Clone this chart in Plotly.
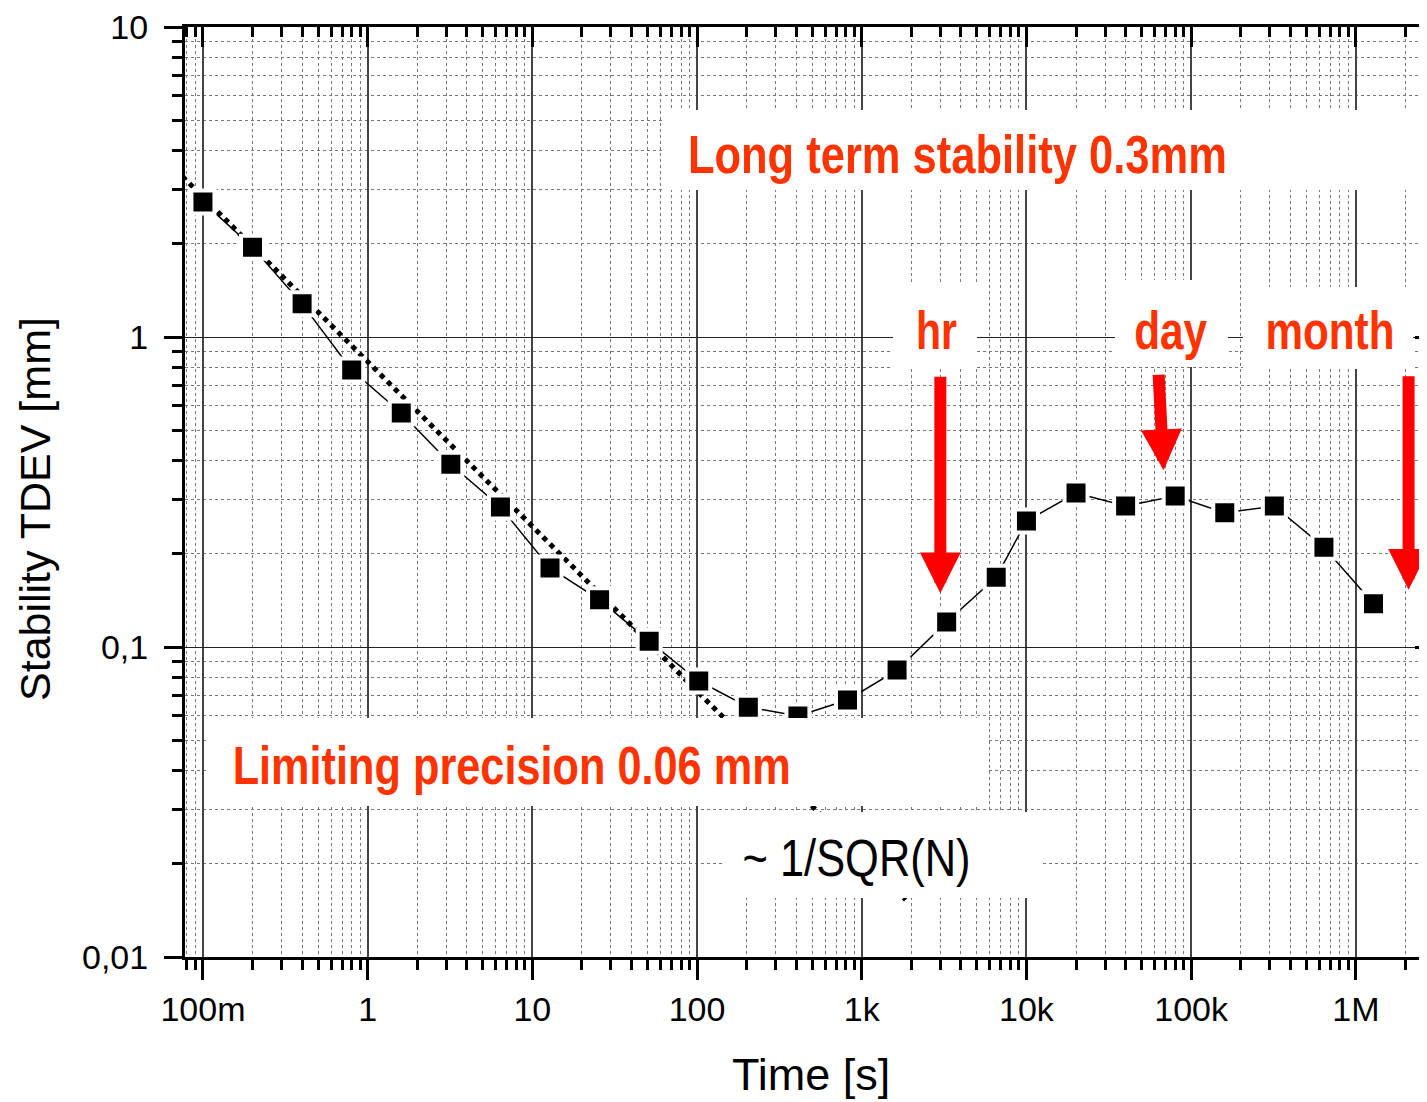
import math
import json
import plotly.graph_objects as go

# ---------------- data ----------------
tau_s = [0.1, 0.2, 0.4, 0.8, 1.6, 3.2, 6.4, 12.8, 25.6, 51.2, 102.4, 204.8,
         409.6, 819.2, 1638.4, 3276.8, 6553.6, 10000, 20000, 40000, 80000,
         160000, 320000, 640000, 1280000]
tdev_mm = [2.73, 1.95, 1.28, 0.783, 0.569, 0.389, 0.283, 0.180, 0.142, 0.1045,
           0.0777, 0.064, 0.0599, 0.0675, 0.0843, 0.1204, 0.168, 0.255, 0.314,
           0.285, 0.307, 0.271, 0.285, 0.210, 0.138]

# ~1/sqrt(N) guide line (end points)
fit_tau_s = [0.075, 1850]
fit_tdev_mm = [3.3, 0.0153]

x_tick_vals = [0.1, 1, 10, 100, 1e3, 1e4, 1e5, 1e6]
x_tick_text = ["100m", "1", "10", "100", "1k", "10k", "100k", "1M"]
y_tick_vals = [0.01, 0.1, 1, 10]
y_tick_text = ["0,01", "0,1", "1", "10"]

# arrow tips (time [s], TDEV [mm])
arrow_tau = [3000, 68000, 2.09e6]
arrow_tdev = [0.149, 0.372, 0.153]

# ---------------- layout constants ----------------
BODY = 8                      # default page margin of the html body
W, H = 1427 - BODY, 1102 - BODY
ML, MR, MT, MB = 185 - BODY, 0, 27 - BODY, 145
X_RANGE = [-1.109, 6.432]
Y_RANGE = [-2, 1.0005]

RED_TXT = "#ff3300"
RED_ARROW = "#ff0000"
NARROW = "Liberation Sans Narrow, Arial Narrow, Liberation Sans, Arial, sans-serif"
SANS = "Liberation Sans, Arial, sans-serif"

PW = W - ML - MR
PH = H - MT - MB


def px(x):
    """screen x pixel -> paper fraction"""
    return (x - BODY - ML) / PW


def py(y):
    """screen y pixel -> paper fraction"""
    return (H - MB - (y - BODY)) / PH


def minor_vals(lo, hi):
    out = []
    for d in range(lo, hi + 1):
        for m in range(2, 10):
            out.append(m * 10 ** d)
    return out


x_minor = minor_vals(-2, 6)
y_minor = minor_vals(-2, 0)

fig = go.Figure()

fig.add_trace(go.Scatter(
    x=fit_tau_s, y=fit_tdev_mm, mode="lines",
    line=dict(color="black", width=5, dash="dot"),
    showlegend=False, hoverinfo="skip"))

fig.add_trace(go.Scatter(
    x=tau_s, y=tdev_mm, mode="lines+markers",
    line=dict(color="black", width=1.5),
    marker=dict(symbol="square", size=23, color="black",
                line=dict(color="white", width=4)),
    showlegend=False))

# empty trace that only makes the mirrored top/right axes exist
fig.add_trace(go.Scatter(x=[], y=[], xaxis="x2", yaxis="y2",
                         showlegend=False, hoverinfo="skip"))

axis_common = dict(type="log", tickmode="array", tickcolor="black",
                   tickwidth=3, showline=True, linewidth=3, linecolor="black",
                   zeroline=False)

fig.update_layout(
    width=W, height=H,
    margin=dict(l=ML, r=MR, t=MT, b=MB, pad=0),
    paper_bgcolor="white", plot_bgcolor="white",
    xaxis=dict(**axis_common, range=X_RANGE, tickvals=x_tick_vals,
               ticktext=x_tick_text, ticks="outside", ticklen=20,
               showgrid=True, gridcolor="#444", gridwidth=1.5,
               tickfont=dict(family=SANS, size=34, color="black"),
               minor=dict(tickmode="array", tickvals=x_minor, ticks="outside",
                          ticklen=10, tickwidth=3, tickcolor="black",
                          showgrid=True, gridcolor="#777", griddash="dot",
                          gridwidth=1)),
    yaxis=dict(**axis_common, range=Y_RANGE, tickvals=y_tick_vals,
               ticktext=y_tick_text, ticks="outside", ticklen=18,
               ticklabelstandoff=9,
               showgrid=True, gridcolor="#222", gridwidth=1,
               tickfont=dict(family=SANS, size=34, color="black"),
               minor=dict(tickmode="array", tickvals=y_minor, ticks="outside",
                          ticklen=10, tickwidth=3, tickcolor="black",
                          showgrid=True, gridcolor="#777", griddash="dot",
                          gridwidth=1)),
    xaxis2=dict(**axis_common, overlaying="x", anchor="y2", side="top",
                range=X_RANGE, tickvals=x_tick_vals, ticks="inside",
                ticklen=20, showticklabels=False, showgrid=False,
                minor=dict(tickmode="array", tickvals=x_minor, ticks="inside",
                           ticklen=10, tickwidth=3, tickcolor="black",
                           showgrid=False)),
    yaxis2=dict(**axis_common, overlaying="y", anchor="x2", side="right",
                range=Y_RANGE, tickvals=y_tick_vals, ticks="inside",
                ticklen=12, showticklabels=False, showgrid=False,
                minor=dict(tickmode="array", tickvals=y_minor, ticks="inside",
                           ticklen=5, tickwidth=3, tickcolor="black",
                           showgrid=False)),
)

# white label boxes (screen pixel extents) drawn above the data
boxes = [(662, 110, 1420, 190), (893, 283, 977, 369), (1115, 280, 1228, 367),
         (1243, 287, 1413, 369), (208, 718, 986, 806), (723, 812, 1040, 898)]
for x0, y0, x1, y1 in boxes:
    fig.add_shape(type="rect", xref="paper", yref="paper",
                  x0=px(x0), x1=px(x1), y0=py(y1), y1=py(y0),
                  fillcolor="white", line=dict(width=0), layer="above")

# text, centre x, centre y, target width (narrow face emulation)
labels = [
    ("Long term stability 0.3mm", 957, 154, 539),
    ("Limiting precision 0.06 mm", 511, 765, 558),
    ("hr", 936, 330, 41),
    ("day", 1171, 330, 73),
    ("month", 1330, 330, 129),
]
text_widths = {}
for txt, x, y, w in labels:
    text_widths[txt] = w
    fig.add_annotation(text=txt, xref="paper", yref="paper", x=px(x), y=py(y),
                       xanchor="center", yanchor="middle", showarrow=False,
                       font=dict(family=NARROW, size=53, color=RED_TXT,
                                 weight="bold"))

sqr_text = "~ 1/SQR(N)"
text_widths[sqr_text] = 228
fig.add_annotation(text=sqr_text, xref="paper", yref="paper",
                   x=px(856), y=py(858), xanchor="center", yanchor="middle",
                   showarrow=False,
                   font=dict(family=NARROW, size=52, color="black"))

# arrows
arrow_tails = [(0, -218), (-5, -97), (0, -215)]
for t, v, (ax, ay) in zip(arrow_tau, arrow_tdev, arrow_tails):
    fig.add_annotation(text="", x=math.log10(t), y=math.log10(v),
                       xref="x", yref="y", ax=ax, ay=ay, showarrow=True,
                       arrowhead=2, arrowsize=0.68, arrowwidth=12,
                       arrowcolor=RED_ARROW)

# axis titles
fig.add_annotation(text="Time [s]", xref="paper", yref="paper",
                   x=px(811), y=py(1074), xanchor="center", yanchor="middle",
                   showarrow=False, font=dict(family=SANS, size=45, color="black"))
fig.add_annotation(text="Stability TDEV [mm]", xref="paper", yref="paper",
                   x=px(35), y=py(509), xanchor="center", yanchor="middle",
                   textangle=-90, showarrow=False,
                   font=dict(family=SANS, size=43, color="black"))

# emulate the narrow (Arial Narrow-like) face: condense the glyphs to the
# reference text widths
post = """
var gd = document.getElementById('{plot_id}');
var widths = %s;
gd.querySelectorAll('text.annotation-text').forEach(function(t){
  var w = widths[t.textContent];
  if (w) {
    t.setAttribute('textLength', w);
    t.setAttribute('lengthAdjust', 'spacingAndGlyphs');
  }
});
""" % json.dumps(text_widths)

fig.write_html("out.html", post_script=post)
